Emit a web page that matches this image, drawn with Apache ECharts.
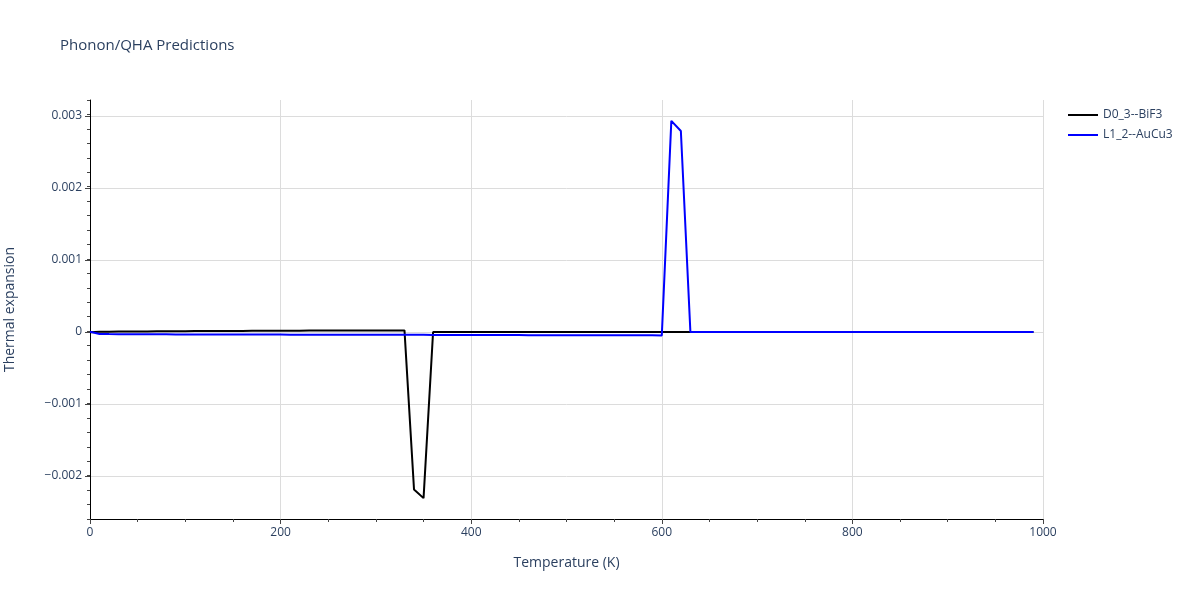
<!DOCTYPE html>
<html>
<head>
<meta charset="utf-8">
<script src="https://cdn.jsdelivr.net/npm/echarts@6/dist/echarts.min.js"></script>
<style>
html,body{margin:0;padding:0;background:#fff;}
#chart{width:1200px;height:600px;}
</style>
</head>
<body>
<div id="chart"></div>
<script>
const temperatures = [0,10,20,30,40,50,60,70,80,90,100,110,120,130,140,150,160,170,180,190,200,210,220,230,240,250,260,270,280,290,300,310,320,330,340,350,360,370,380,390,400,410,420,430,440,450,460,470,480,490,500,510,520,530,540,550,560,570,580,590,600,610,620,630,640,650,660,670,680,690,700,710,720,730,740,750,760,770,780,790,800,810,820,830,840,850,860,870,880,890,900,910,920,930,940,950,960,970,980,990];

const bif3Values = [
  -0.000005,0.000000,0.000002,0.000003,0.000004,0.000005,0.000006,0.000007,0.000008,0.000008,
  0.000009,0.000010,0.000011,0.000011,0.000012,0.000013,0.000013,0.000014,0.000014,0.000015,
  0.000015,0.000016,0.000016,0.000017,0.000017,0.000018,0.000018,0.000018,0.000019,0.000019,
  0.000019,0.000020,0.000020,0.000020,-0.00219,-0.00231,-0.000002,-0.000002,-0.000002,-0.000002,
  -0.000002,-0.000002,-0.000002,-0.000002,-0.000002,-0.000002,-0.000002,-0.000002,-0.000002,-0.000002,
  -0.000002,-0.000002,-0.000002,-0.000002,-0.000002,-0.000002,-0.000002,-0.000002,-0.000002,-0.000002,
  -0.000002,-0.000001,-0.000001,-0.000001,-0.000001,-0.000001,-0.000001,-0.000001,-0.000001,-0.000001,
  -0.000001,-0.000001,-0.000001,-0.000001,-0.000001,-0.000001,-0.000001,-0.000001,-0.000001,-0.000001,
  -0.000001,-0.000001,-0.000001,-0.000001,-0.000001,-0.000001,-0.000001,-0.000001,-0.000001,-0.000001,
  -0.000001,-0.000001,-0.000001,-0.000001,-0.000001,-0.000001,-0.000001,-0.000001,-0.000001,-0.000001
];

const aucu3Values = [
  0.000000,-0.000030,-0.000032,-0.000033,-0.000034,-0.000034,-0.000035,-0.000035,-0.000035,-0.000036,
  -0.000036,-0.000036,-0.000036,-0.000037,-0.000037,-0.000037,-0.000037,-0.000038,-0.000038,-0.000038,
  -0.000038,-0.000039,-0.000039,-0.000039,-0.000039,-0.000040,-0.000040,-0.000040,-0.000040,-0.000041,
  -0.000041,-0.000041,-0.000042,-0.000042,-0.000042,-0.000042,-0.000043,-0.000043,-0.000043,-0.000043,
  -0.000044,-0.000044,-0.000044,-0.000045,-0.000045,-0.000045,-0.000046,-0.000046,-0.000047,-0.000046,
  -0.000046,-0.000046,-0.000047,-0.000047,-0.000047,-0.000048,-0.000048,-0.000048,-0.000049,-0.000049,
  -0.000050,0.00293,0.00279,-0.000001,-0.000001,-0.000001,-0.000001,-0.000001,-0.000001,-0.000001,
  -0.000001,-0.000001,-0.000001,-0.000001,-0.000001,-0.000001,-0.000001,-0.000001,-0.000001,-0.000001,
  -0.000001,-0.000001,-0.000001,-0.000001,-0.000001,-0.000001,-0.000001,-0.000001,-0.000001,-0.000001,
  -0.000001,-0.000001,-0.000001,-0.000001,-0.000001,-0.000001,-0.000001,-0.000001,-0.000001,-0.000001
];

const seriesNames = ['D0_3--BiF3', 'L1_2--AuCu3'];
const yTickValues = [-0.002, -0.001, 0, 0.001, 0.002, 0.003];

const textColor = '#2a3f5f';
const fontFamily = '"Open Sans", Verdana, Arial, sans-serif';

function pairs(xs, ys) { return xs.map((x, i) => [x, ys[i]]); }

function fmtY(v) {
  if (Math.abs(v) < 1e-12) return '0';
  const s = Math.abs(v).toFixed(3);
  return (v < 0 ? '\u2212' : '') + s;
}

const lineIcon = 'path://M0,0L30,0L30,2L0,2Z';

const chart = echarts.init(document.getElementById('chart'), null, {renderer: 'canvas'});
chart.setOption({
  animation: false,
  backgroundColor: '#ffffff',
  title: {
    text: 'Phonon/QHA Predictions',
    left: 60, top: 38, padding: 0,
    textStyle: {color: textColor, fontSize: 15, fontWeight: 'normal', fontFamily: fontFamily}
  },
  legend: {
    orient: 'vertical',
    left: 1068, top: 109, padding: 0,
    itemWidth: 30, itemHeight: 2, itemGap: 8,
    icon: lineIcon,
    textStyle: {color: textColor, fontSize: 12, fontFamily: fontFamily},
    data: seriesNames
  },
  grid: {left: 90, right: 157, top: 100, bottom: 81, containLabel: false, outerBoundsMode: 'none'},
  xAxis: {
    type: 'value', min: 0, max: 1000, interval: 200,
    name: 'Temperature (K)', nameLocation: 'middle', nameGap: 37,
    nameTextStyle: {color: textColor, fontSize: 14, fontFamily: fontFamily},
    axisLine: {show: true, onZero: false, lineStyle: {color: '#000', width: 1}},
    axisTick: {show: true, length: 5, lineStyle: {color: '#444'}},
    minorTick: {show: true, splitNumber: 4, length: 3, lineStyle: {color: '#444'}},
    axisLabel: {color: textColor, fontSize: 12, fontFamily: fontFamily, margin: 8,
      formatter: v => String(v)},
    splitLine: {show: true, lineStyle: {color: '#dcdcdc', width: 1}}
  },
  yAxis: [{
    type: 'value', min: -0.0026, max: 0.00322,
    name: 'Thermal expansion', nameLocation: 'middle', nameGap: 73,
    nameTextStyle: {color: textColor, fontSize: 14, fontFamily: fontFamily},
    axisLine: {show: true, onZero: false, lineStyle: {color: '#000', width: 1}},
    axisTick: {show: true, length: 5, customValues: yTickValues, lineStyle: {color: '#444'}},
    axisLabel: {color: textColor, fontSize: 12, fontFamily: fontFamily, margin: 8,
      customValues: yTickValues, formatter: fmtY},
    splitLine: {show: true, lineStyle: {color: '#dcdcdc', width: 1}}
  }, {
    type: 'value', min: -0.0026, max: 0.0032, interval: 0.0002, position: 'left',
    axisLine: {show: false},
    axisTick: {show: true, length: 3, lineStyle: {color: '#444'}},
    axisLabel: {show: false},
    splitLine: {show: false}
  }],
  series: [{
    name: seriesNames[0], type: 'line', showSymbol: false, symbol: 'none',
    data: pairs(temperatures, bif3Values),
    lineStyle: {color: '#000000', width: 2},
    itemStyle: {color: '#000000'},
    z: 2
  }, {
    name: seriesNames[1], type: 'line', showSymbol: false, symbol: 'none',
    data: pairs(temperatures, aucu3Values),
    lineStyle: {color: '#0000ff', width: 2},
    itemStyle: {color: '#0000ff'},
    z: 3
  }]
});
</script>
</body>
</html>
